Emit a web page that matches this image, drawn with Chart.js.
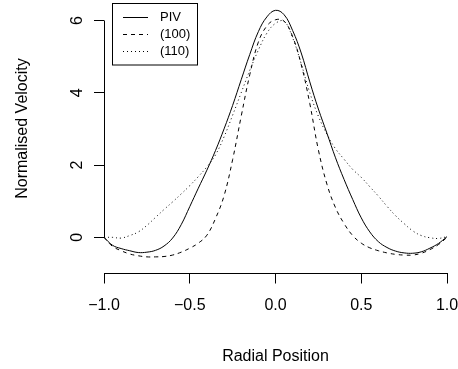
<!DOCTYPE html>
<html>
<head>
<meta charset="utf-8">
<script src="https://cdn.jsdelivr.net/npm/chart.js@4/dist/chart.umd.min.js"></script>
<style>
  html, body { margin: 0; padding: 0; background: #fff; }
  #wrap { width: 458px; height: 369px; }
</style>
</head>
<body>
<div id="wrap"><canvas id="grafica" width="458" height="369"></canvas></div>
<script>
// posiciones radiales (eje x)
const radial = [
  -1.00, -0.95, -0.90, -0.85, -0.80, -0.75, -0.70, -0.65, -0.60, -0.55,
  -0.50, -0.45, -0.40, -0.35, -0.30, -0.25, -0.20, -0.15, -0.10, -0.05,
   0.00,  0.05,  0.10,  0.15,  0.20,  0.25,  0.30,  0.35,  0.40,  0.45,
   0.50,  0.55,  0.60,  0.65,  0.70,  0.75,  0.80,  0.85,  0.90,  0.95, 1.00
];

const piv = [
  0.00, -0.22, -0.31, -0.37, -0.42, -0.41, -0.36, -0.24, -0.02, 0.35,
  0.85, 1.36, 1.86, 2.40, 3.00, 3.65, 4.36, 5.06, 5.69, 6.10,
  6.28, 6.16, 5.72, 5.10, 4.30, 3.55, 2.88, 2.20, 1.60, 1.05,
  0.54, 0.15, -0.12, -0.28, -0.38, -0.43, -0.44, -0.40, -0.30, -0.17, 0.02
];

const perfil100 = [
  0.00, -0.25, -0.37, -0.46, -0.51, -0.54, -0.54, -0.53, -0.49, -0.41,
  -0.30, -0.16, 0.06, 0.52, 1.15, 2.15, 3.35, 4.50, 5.40, 5.85,
  6.02, 5.98, 5.55, 4.78, 3.70, 2.42, 1.47, 0.82, 0.38, 0.05,
  -0.16, -0.29, -0.37, -0.43, -0.47, -0.49, -0.49, -0.44, -0.34, -0.20, 0.00
];

const perfil110 = [
  0.00, 0.00, -0.02, 0.05, 0.15, 0.33, 0.55, 0.77, 0.98, 1.20,
  1.43, 1.68, 1.95, 2.28, 2.78, 3.38, 4.00, 4.62, 5.18, 5.65,
  5.92, 5.98, 5.52, 4.80, 4.00, 3.35, 2.85, 2.45, 2.16, 1.88,
  1.66, 1.40, 1.14, 0.86, 0.60, 0.38, 0.18, 0.05, -0.01, -0.03, 0.02
];

const xTicks = [-1.0, -0.5, 0.0, 0.5, 1.0];
const yTicks = [0, 2, 4, 6];

const fuente = "'Liberation Sans', Arial, Helvetica, sans-serif";
Chart.defaults.font.family = fuente;
Chart.defaults.color = '#000';

const pts = (ys) => radial.map((x, i) => ({ x, y: ys[i] }));

function fmt(v) {
  return v.toFixed(1).replace('-', '\u2212');
}

// ejes, titulos y leyenda al estilo de R
const estiloR = {
  id: 'estiloR',
  afterDraw(chart) {
    const ctx = chart.ctx;
    const xs = chart.scales.x;
    const ys = chart.scales.y;
    const left = chart.chartArea.left;
    ctx.save();
    ctx.strokeStyle = '#000';
    ctx.lineWidth = 1;
    ctx.setLineDash([]);

    // linea del eje y solo entre 0 y 6
    const y0 = ys.getPixelForValue(yTicks[0]);
    const y1 = ys.getPixelForValue(yTicks[yTicks.length - 1]);
    ctx.beginPath();
    ctx.moveTo(Math.round(left) + 0.5, y0);
    ctx.lineTo(Math.round(left) + 0.5, y1);
    ctx.stroke();

    // etiquetas del eje y, giradas
    ctx.fillStyle = '#000';
    ctx.font = '16px ' + fuente;
    ctx.textAlign = 'center';
    ctx.textBaseline = 'alphabetic';
    yTicks.forEach((v) => {
      ctx.save();
      ctx.translate(82, ys.getPixelForValue(v));
      ctx.rotate(-Math.PI / 2);
      ctx.fillText(String(v), 0, 0);
      ctx.restore();
    });

    // titulos
    ctx.save();
    ctx.translate(26.5, 128.5);
    ctx.rotate(-Math.PI / 2);
    ctx.fillText('Normalised Velocity', 0, 0);
    ctx.restore();
    ctx.fillText('Radial Position', xs.getPixelForValue(0), 360.5);

    // leyenda
    ctx.strokeRect(112.5, 3.5, 85, 61.5);
    ctx.font = '13px ' + fuente;
    ctx.textAlign = 'left';
    ctx.textBaseline = 'middle';
    chart.data.datasets.forEach((ds, i) => {
      const yy = 16.5 + i * 17;
      ctx.setLineDash(ds.borderDash || []);
      ctx.beginPath();
      ctx.moveTo(123, Math.round(yy) + 0.5);
      ctx.lineTo(148, Math.round(yy) + 0.5);
      ctx.stroke();
      ctx.setLineDash([]);
      ctx.fillText(ds.label, 160, yy + 0.5);
    });
    ctx.restore();
  }
};

const ctx = document.getElementById('grafica').getContext('2d');
const chart = new Chart(ctx, {
  type: 'line',
  data: {
    datasets: [
      { label: 'PIV', data: pts(piv), borderDash: [] },
      { label: '(100)', data: pts(perfil100), borderDash: [4, 4] },
      { label: '(110)', data: pts(perfil110), borderDash: [1, 3] }
    ].map((d) => Object.assign(d, {
      borderColor: '#000',
      borderWidth: 1,
      pointRadius: 0,
      fill: false,
      tension: 0.4
    }))
  },
  options: {
    responsive: false,
    animation: false,
    events: [],
    layout: { padding: { top: 6, right: 0, left: 0, bottom: 0 } },
    plugins: {
      legend: { display: false },
      tooltip: { enabled: false }
    },
    scales: {
      x: {
        type: 'linear',
        min: -1,
        max: 1,
        afterFit: (s) => { s.height = 95.5; s.paddingRight = 11; },
        afterBuildTicks: (s) => { s.ticks = xTicks.map((v) => ({ value: v })); },
        ticks: {
          callback: (v) => fmt(v),
          font: { size: 16 },
          padding: 12,
          maxRotation: 0,
          color: '#000'
        },
        grid: {
          drawOnChartArea: false,
          drawTicks: true,
          tickLength: 10,
          tickColor: '#000',
          tickWidth: 1
        },
        border: { display: true, color: '#000', width: 1 }
      },
      y: {
        type: 'linear',
        min: -1,
        max: 6.4,
        afterFit: (s) => { s.width = 104; },
        afterBuildTicks: (s) => { s.ticks = yTicks.map((v) => ({ value: v })); },
        ticks: { display: false },
        grid: {
          drawOnChartArea: false,
          drawTicks: true,
          tickLength: 10,
          tickColor: '#000',
          tickWidth: 1
        },
        border: { display: false }
      }
    }
  },
  plugins: [estiloR]
});
</script>
</body>
</html>
